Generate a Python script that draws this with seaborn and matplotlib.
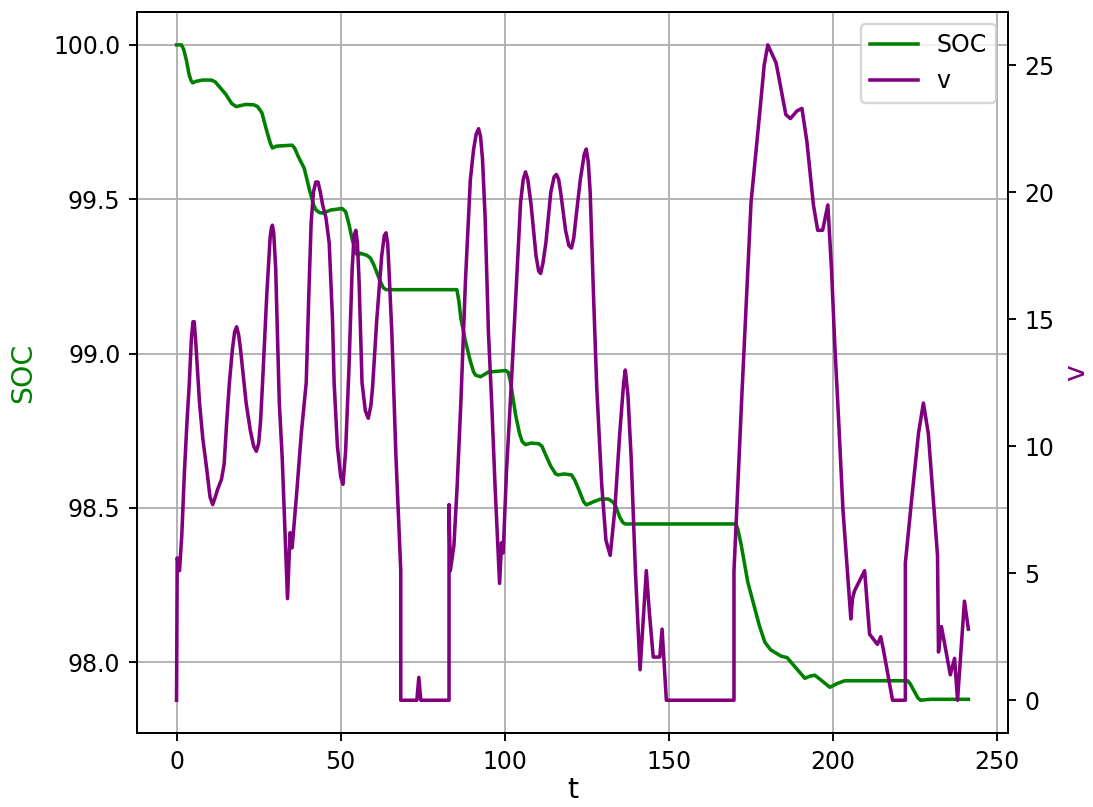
import numpy as np
import pandas as pd
import seaborn as sns
import matplotlib.pyplot as plt

# SOC trace (time, value)
soc_t = [0, 1.5, 2.2, 3.0, 3.8, 4.4, 4.9, 6, 8, 10.6, 11.8, 13, 15, 16.8, 18.2, 21,
         23.5, 24.7, 26, 27.5, 28.6, 29.2, 30.5, 35.2, 36, 37, 38.9, 40.5, 41.8,
         42.5, 43.5, 44.5, 47, 50.4, 51.5, 52.5, 53.5, 54.7, 55.5, 56, 58, 59, 60,
         62, 63, 63.8, 85.4, 86, 86.6, 88, 89.5, 90.5, 91.1, 92.6, 95, 100.2, 101,
         101.7, 103.3, 104.5, 105.3, 106.3, 108, 110.3, 111.3, 112.3, 114, 115.5,
         116.3, 118, 120.3, 121.3, 122.5, 124, 124.8, 126, 127, 129, 131.5, 132.8,
         133.6, 135, 136, 136.7, 170.4, 171, 172, 174, 176, 177.5, 179.2, 181,
         184.1, 186, 188, 191.4, 193, 194.4, 196, 199, 201, 203.5, 222.7, 223.5,
         224.5, 225.8, 226.6, 229.7, 241.2]
soc = [100.0, 100.0, 99.985, 99.95, 99.905, 99.885, 99.877, 99.882, 99.886,
       99.886, 99.88, 99.865, 99.84, 99.81, 99.80, 99.807, 99.806, 99.80, 99.78,
       99.72, 99.68, 99.666, 99.672, 99.675, 99.665, 99.64, 99.60, 99.53, 99.48,
       99.465, 99.457, 99.455, 99.465, 99.47, 99.46, 99.42, 99.37, 99.323, 99.32,
       99.325, 99.318, 99.31, 99.29, 99.235, 99.213, 99.207, 99.207, 99.17,
       99.114, 99.04, 98.975, 98.94, 98.93, 98.925, 98.94, 98.945, 98.94, 98.91,
       98.80, 98.74, 98.715, 98.705, 98.71, 98.708, 98.70, 98.675, 98.635, 98.61,
       98.607, 98.61, 98.607, 98.59, 98.56, 98.52, 98.51, 98.515, 98.52, 98.528,
       98.529, 98.52, 98.51, 98.47, 98.452, 98.448, 98.448, 98.43, 98.38, 98.26,
       98.18, 98.12, 98.065, 98.04, 98.02, 98.015, 97.99, 97.948, 97.955, 97.958,
       97.945, 97.919, 97.93, 97.94, 97.94, 97.93, 97.91, 97.885, 97.877, 97.88,
       97.88]

# speed trace (time, value)
v_t = [0, 0.2, 0.9, 1.6, 2.4, 3.2, 3.9, 4.5, 5.0, 5.4, 5.9, 7, 8, 9.1, 10.2, 11,
       11.8, 12.5, 13.7, 14.5, 15.3, 16.1, 17, 17.7, 18.3, 18.9, 19.5, 21.2, 22.5,
       23.5, 24.3, 25, 25.6, 26.2, 27.5, 28.5, 28.9, 29.2, 29.6, 30.2, 31.3, 32.2,
       33.8, 34.6, 35.2, 36.5, 38, 39.5, 40.3, 41, 41.7, 42.4, 43.1, 43.8, 44.5,
       45.5, 46.5, 47.5, 48, 49, 50, 50.7, 51.5, 52.5, 53.5, 54.1, 54.6, 55.1,
       55.6, 56.5, 57.5, 58.4, 59.2, 59.7, 61, 62.5, 63.3, 63.8, 64.3, 64.7, 65.6,
       66.8, 68.3, 68.3, 73.2, 73.8, 74.4, 83, 83, 83.4, 84.5, 85.5, 86.6, 88,
       89.5, 90.5, 91.3, 92, 92.6, 93.2, 94, 95, 96, 97, 98.4, 99, 99.5, 100.5,
       102, 104.8, 105.6, 106.3, 107, 108, 109.5, 110.3, 110.9, 111.6, 112.5, 114,
       115, 115.7, 116.4, 117, 118.5, 119.5, 120.3, 121, 121.5, 123, 124.2, 124.8,
       125.4, 126, 127, 128, 129.5, 130.8, 132.1, 133.5, 135, 136.2, 136.7, 137.5,
       138.5, 139.8, 141.2, 143.1, 144, 145.2, 147.2, 147.9, 149.2, 169.8, 169.8,
       170.3, 172.2, 175, 177.7, 179, 180.1, 182.6, 183.5, 185.6, 187, 189, 190.5,
       192, 194, 195.3, 196.8, 198.4, 199.5, 200.5, 201.5, 203, 205.4, 205.9,
       206.5, 209.6, 211.1, 213.5, 214.5, 215.3, 218.1, 222, 222, 224, 226, 227.5,
       229, 231.8, 232.1, 233, 235.7, 237, 237.9, 240, 241.2]
v = [0, 5.6, 5.1, 6.5, 9, 11, 12.5, 14.2, 14.9, 14.9, 14.0, 11.7, 10.3, 9.2, 8.0,
     7.7, 8.0, 8.3, 8.7, 9.3, 11, 12.5, 13.8, 14.5, 14.7, 14.4, 13.8, 11.7, 10.6,
     10.0, 9.8, 10.1, 11, 12.5, 16, 18.2, 18.6, 18.7, 18.4, 17, 11.7, 9.5, 4.0,
     6.6, 6.0, 8, 10.5, 12.5, 16, 18.8, 20, 20.4, 20.4, 20.0, 19.5, 19.0, 18.0,
     15, 12.5, 10, 8.8, 8.5, 9.8, 13, 17, 18.3, 18.5, 18.0, 16.5, 12.5, 11.4,
     11.1, 11.6, 12.3, 15, 17.5, 18.3, 18.4, 18.0, 17, 14.4, 9.7, 5.1, 0, 0, 0.9,
     0, 0, 7.7, 5.1, 6.1, 8.5, 11.7, 16.5, 20.5, 21.7, 22.3, 22.5, 22.2, 21.3, 19,
     14.5, 11.7, 8.5, 4.6, 6.2, 5.8, 9, 12.5, 19.6, 20.5, 20.8, 20.5, 19.5, 17.5,
     16.9, 16.8, 17.2, 18, 20, 20.6, 20.7, 20.5, 20, 18.5, 17.9, 17.8, 18.2, 18.8,
     20.5, 21.5, 21.7, 21.2, 20, 16, 12.3, 8.5, 6.3, 5.7, 7.5, 10.5, 12.5, 13.0,
     12, 9.5, 5, 1.2, 5.1, 3.5, 1.7, 1.7, 2.8, 0, 0, 5.1, 6.5, 12, 19.6, 23.2, 25,
     25.8, 25.1, 24.5, 23.05, 22.9, 23.2, 23.3, 22, 19.5, 18.5, 18.5, 19.5, 17,
     14, 11.5, 7.5, 3.2, 4.0, 4.3, 5.1, 2.6, 2.2, 2.5, 2.0, 0, 0, 5.4, 8, 10.5,
     11.7, 10.5, 5.7, 1.9, 2.9, 1.0, 1.65, 0, 3.9, 2.8]

soc_df = pd.DataFrame({'t': soc_t, 'SOC': soc})
v_df = pd.DataFrame({'t': v_t, 'v': v})

fig, ax1 = plt.subplots(figsize=(1093 / 170, 807 / 170), dpi=170)
fig.subplots_adjust(left=0.1253, right=0.9222, top=0.985, bottom=0.0917)

sns.lineplot(data=soc_df, x='t', y='SOC', ax=ax1, color='green', label='SOC',
             estimator=None, sort=False, linewidth=1.5)
ax1.set_ylabel('SOC', color='green', fontsize=12, labelpad=7)
ax1.set_xlabel('t', fontsize=12, labelpad=1)
ax1.grid(True)

ax2 = ax1.twinx()
sns.lineplot(data=v_df, x='t', y='v', ax=ax2, color='purple', label='v',
             estimator=None, sort=False, linewidth=1.5)
ax2.set_ylabel('v', color='purple', fontsize=12, labelpad=3)

h1, l1 = ax1.get_legend_handles_labels()
h2, l2 = ax2.get_legend_handles_labels()
ax1.get_legend().remove()
ax2.legend(h1 + h2, l1 + l2, loc='upper right')

plt.savefig('out.png', dpi=170)
